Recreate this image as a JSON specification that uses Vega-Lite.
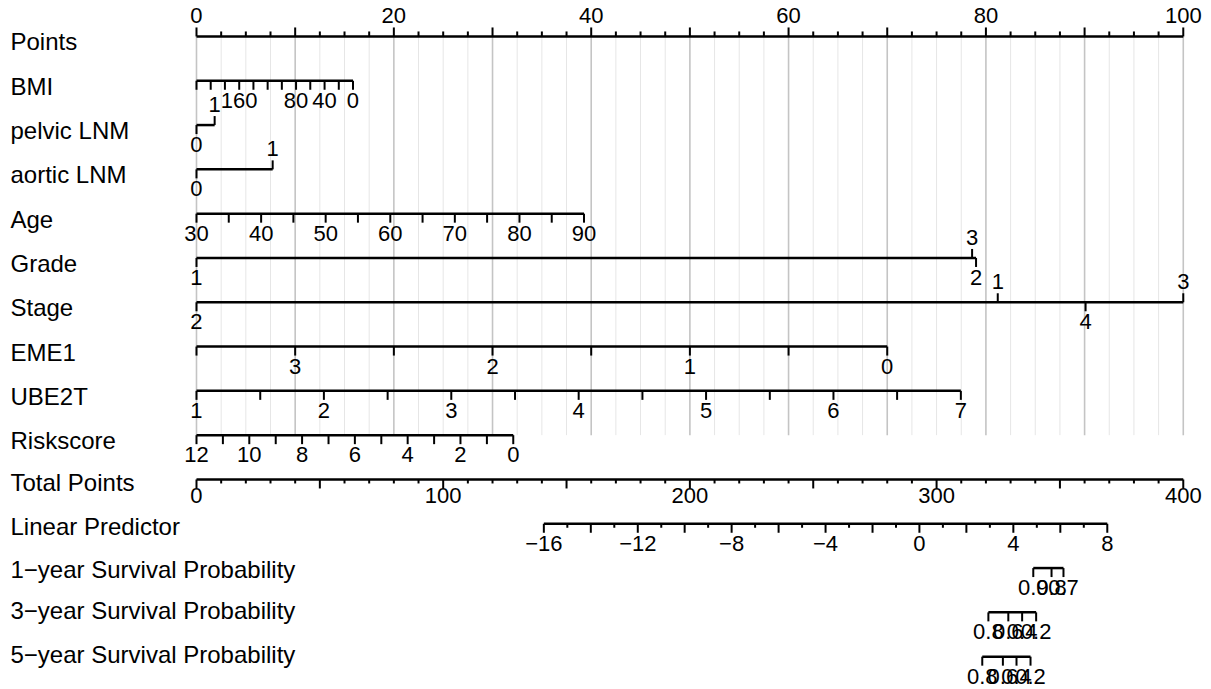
{
"$schema": "https://vega.github.io/schema/vega-lite/v6.json",
"width": 1211, "height": 689,
"autosize": {"type": "fit", "contains": "padding"},
"padding": 0,
"background": "white",
"config": {"view": {"stroke": null}, "font": "Liberation Sans"},
"datasets": {
"lines": [
{"var":"Points","lo":0,"hi":100},
{"var":"BMI","lo":0,"hi":15.86},
{"var":"pelvic LNM","lo":0,"hi":1.84},
{"var":"aortic LNM","lo":0,"hi":7.72},
{"var":"Age","lo":0,"hi":39.27},
{"var":"Grade","lo":0,"hi":79.0},
{"var":"Stage","lo":0,"hi":100},
{"var":"EME1","lo":0,"hi":70},
{"var":"UBE2T","lo":0,"hi":77.46},
{"var":"Riskscore","lo":0,"hi":32.1},
{"var":"Total Points","lo":0,"hi":100},
{"var":"Linear Predictor","lo":35.2,"hi":92.3},
{"var":"1−year Survival Probability","lo":84.8,"hi":87.86},
{"var":"3−year Survival Probability","lo":80.25,"hi":85.09},
{"var":"5−year Survival Probability","lo":79.63,"hi":84.52}
],
"ticks": [
{"var":"Points","pts":0,"lab":"0","side":"up","major":1},
{"var":"Points","pts":2.5,"lab":"","side":"up","major":0},
{"var":"Points","pts":5,"lab":"","side":"up","major":0},
{"var":"Points","pts":7.5,"lab":"","side":"up","major":0},
{"var":"Points","pts":10,"lab":"","side":"up","major":1},
{"var":"Points","pts":12.5,"lab":"","side":"up","major":0},
{"var":"Points","pts":15,"lab":"","side":"up","major":0},
{"var":"Points","pts":17.5,"lab":"","side":"up","major":0},
{"var":"Points","pts":20,"lab":"20","side":"up","major":1},
{"var":"Points","pts":22.5,"lab":"","side":"up","major":0},
{"var":"Points","pts":25,"lab":"","side":"up","major":0},
{"var":"Points","pts":27.5,"lab":"","side":"up","major":0},
{"var":"Points","pts":30,"lab":"","side":"up","major":1},
{"var":"Points","pts":32.5,"lab":"","side":"up","major":0},
{"var":"Points","pts":35,"lab":"","side":"up","major":0},
{"var":"Points","pts":37.5,"lab":"","side":"up","major":0},
{"var":"Points","pts":40,"lab":"40","side":"up","major":1},
{"var":"Points","pts":42.5,"lab":"","side":"up","major":0},
{"var":"Points","pts":45,"lab":"","side":"up","major":0},
{"var":"Points","pts":47.5,"lab":"","side":"up","major":0},
{"var":"Points","pts":50,"lab":"","side":"up","major":1},
{"var":"Points","pts":52.5,"lab":"","side":"up","major":0},
{"var":"Points","pts":55,"lab":"","side":"up","major":0},
{"var":"Points","pts":57.5,"lab":"","side":"up","major":0},
{"var":"Points","pts":60,"lab":"60","side":"up","major":1},
{"var":"Points","pts":62.5,"lab":"","side":"up","major":0},
{"var":"Points","pts":65,"lab":"","side":"up","major":0},
{"var":"Points","pts":67.5,"lab":"","side":"up","major":0},
{"var":"Points","pts":70,"lab":"","side":"up","major":1},
{"var":"Points","pts":72.5,"lab":"","side":"up","major":0},
{"var":"Points","pts":75,"lab":"","side":"up","major":0},
{"var":"Points","pts":77.5,"lab":"","side":"up","major":0},
{"var":"Points","pts":80,"lab":"80","side":"up","major":1},
{"var":"Points","pts":82.5,"lab":"","side":"up","major":0},
{"var":"Points","pts":85,"lab":"","side":"up","major":0},
{"var":"Points","pts":87.5,"lab":"","side":"up","major":0},
{"var":"Points","pts":90,"lab":"","side":"up","major":1},
{"var":"Points","pts":92.5,"lab":"","side":"up","major":0},
{"var":"Points","pts":95,"lab":"","side":"up","major":0},
{"var":"Points","pts":97.5,"lab":"","side":"up","major":0},
{"var":"Points","pts":100,"lab":"100","side":"up","major":1},

{"var":"BMI","pts":15.86,"lab":"0","side":"dn","major":1},
{"var":"BMI","pts":14.42,"lab":"","side":"dn","major":1},
{"var":"BMI","pts":12.98,"lab":"40","side":"dn","major":1},
{"var":"BMI","pts":11.53,"lab":"","side":"dn","major":1},
{"var":"BMI","pts":10.09,"lab":"80","side":"dn","major":1},
{"var":"BMI","pts":8.65,"lab":"","side":"dn","major":1},
{"var":"BMI","pts":7.21,"lab":"","side":"dn","major":1},
{"var":"BMI","pts":5.77,"lab":"","side":"dn","major":1},
{"var":"BMI","pts":4.33,"lab":"160","side":"dn","major":1},
{"var":"BMI","pts":2.88,"lab":"","side":"dn","major":1},
{"var":"BMI","pts":1.44,"lab":"","side":"dn","major":1},
{"var":"BMI","pts":0,"lab":"","side":"dn","major":1},

{"var":"pelvic LNM","pts":0,"lab":"0","side":"dn","major":1},
{"var":"pelvic LNM","pts":1.84,"lab":"1","side":"up","major":1},
{"var":"aortic LNM","pts":0,"lab":"0","side":"dn","major":1},
{"var":"aortic LNM","pts":7.72,"lab":"1","side":"up","major":1},

{"var":"Age","pts":0,"lab":"30","side":"dn","major":1},
{"var":"Age","pts":3.27,"lab":"","side":"dn","major":1},
{"var":"Age","pts":6.55,"lab":"40","side":"dn","major":1},
{"var":"Age","pts":9.82,"lab":"","side":"dn","major":1},
{"var":"Age","pts":13.09,"lab":"50","side":"dn","major":1},
{"var":"Age","pts":16.36,"lab":"","side":"dn","major":1},
{"var":"Age","pts":19.64,"lab":"60","side":"dn","major":1},
{"var":"Age","pts":22.91,"lab":"","side":"dn","major":1},
{"var":"Age","pts":26.18,"lab":"70","side":"dn","major":1},
{"var":"Age","pts":29.45,"lab":"","side":"dn","major":1},
{"var":"Age","pts":32.73,"lab":"80","side":"dn","major":1},
{"var":"Age","pts":36.0,"lab":"","side":"dn","major":1},
{"var":"Age","pts":39.27,"lab":"90","side":"dn","major":1},

{"var":"Grade","pts":0,"lab":"1","side":"dn","major":1},
{"var":"Grade","pts":79.0,"lab":"2","side":"dn","major":1},
{"var":"Grade","pts":78.6,"lab":"3","side":"up","major":1},

{"var":"Stage","pts":0,"lab":"2","side":"dn","major":1},
{"var":"Stage","pts":81.2,"lab":"1","side":"up","major":1},
{"var":"Stage","pts":90.1,"lab":"4","side":"dn","major":1},
{"var":"Stage","pts":100,"lab":"3","side":"up","major":1},

{"var":"EME1","pts":0,"lab":"","side":"dn","major":1},
{"var":"EME1","pts":10,"lab":"3","side":"dn","major":1},
{"var":"EME1","pts":20,"lab":"","side":"dn","major":1},
{"var":"EME1","pts":30,"lab":"2","side":"dn","major":1},
{"var":"EME1","pts":40,"lab":"","side":"dn","major":1},
{"var":"EME1","pts":50,"lab":"1","side":"dn","major":1},
{"var":"EME1","pts":60,"lab":"","side":"dn","major":1},
{"var":"EME1","pts":70,"lab":"0","side":"dn","major":1},

{"var":"UBE2T","pts":0,"lab":"1","side":"dn","major":1},
{"var":"UBE2T","pts":6.46,"lab":"","side":"dn","major":1},
{"var":"UBE2T","pts":12.91,"lab":"2","side":"dn","major":1},
{"var":"UBE2T","pts":19.37,"lab":"","side":"dn","major":1},
{"var":"UBE2T","pts":25.82,"lab":"3","side":"dn","major":1},
{"var":"UBE2T","pts":32.28,"lab":"","side":"dn","major":1},
{"var":"UBE2T","pts":38.73,"lab":"4","side":"dn","major":1},
{"var":"UBE2T","pts":45.19,"lab":"","side":"dn","major":1},
{"var":"UBE2T","pts":51.64,"lab":"5","side":"dn","major":1},
{"var":"UBE2T","pts":58.1,"lab":"","side":"dn","major":1},
{"var":"UBE2T","pts":64.55,"lab":"6","side":"dn","major":1},
{"var":"UBE2T","pts":71.0,"lab":"","side":"dn","major":1},
{"var":"UBE2T","pts":77.46,"lab":"7","side":"dn","major":1},

{"var":"Riskscore","pts":0,"lab":"12","side":"dn","major":1},
{"var":"Riskscore","pts":2.675,"lab":"","side":"dn","major":1},
{"var":"Riskscore","pts":5.35,"lab":"10","side":"dn","major":1},
{"var":"Riskscore","pts":8.03,"lab":"","side":"dn","major":1},
{"var":"Riskscore","pts":10.7,"lab":"8","side":"dn","major":1},
{"var":"Riskscore","pts":13.38,"lab":"","side":"dn","major":1},
{"var":"Riskscore","pts":16.05,"lab":"6","side":"dn","major":1},
{"var":"Riskscore","pts":18.73,"lab":"","side":"dn","major":1},
{"var":"Riskscore","pts":21.4,"lab":"4","side":"dn","major":1},
{"var":"Riskscore","pts":24.08,"lab":"","side":"dn","major":1},
{"var":"Riskscore","pts":26.75,"lab":"2","side":"dn","major":1},
{"var":"Riskscore","pts":29.43,"lab":"","side":"dn","major":1},
{"var":"Riskscore","pts":32.1,"lab":"0","side":"dn","major":1},

{"var":"Total Points","pts":0,"lab":"0","side":"dn","major":1},
{"var":"Total Points","pts":2.5,"lab":"","side":"dn","major":0},
{"var":"Total Points","pts":5,"lab":"","side":"dn","major":0},
{"var":"Total Points","pts":7.5,"lab":"","side":"dn","major":0},
{"var":"Total Points","pts":10,"lab":"","side":"dn","major":0},
{"var":"Total Points","pts":12.5,"lab":"","side":"dn","major":1},
{"var":"Total Points","pts":15,"lab":"","side":"dn","major":0},
{"var":"Total Points","pts":17.5,"lab":"","side":"dn","major":0},
{"var":"Total Points","pts":20,"lab":"","side":"dn","major":0},
{"var":"Total Points","pts":22.5,"lab":"","side":"dn","major":0},
{"var":"Total Points","pts":25,"lab":"100","side":"dn","major":1},
{"var":"Total Points","pts":27.5,"lab":"","side":"dn","major":0},
{"var":"Total Points","pts":30,"lab":"","side":"dn","major":0},
{"var":"Total Points","pts":32.5,"lab":"","side":"dn","major":0},
{"var":"Total Points","pts":35,"lab":"","side":"dn","major":0},
{"var":"Total Points","pts":37.5,"lab":"","side":"dn","major":1},
{"var":"Total Points","pts":40,"lab":"","side":"dn","major":0},
{"var":"Total Points","pts":42.5,"lab":"","side":"dn","major":0},
{"var":"Total Points","pts":45,"lab":"","side":"dn","major":0},
{"var":"Total Points","pts":47.5,"lab":"","side":"dn","major":0},
{"var":"Total Points","pts":50,"lab":"200","side":"dn","major":1},
{"var":"Total Points","pts":52.5,"lab":"","side":"dn","major":0},
{"var":"Total Points","pts":55,"lab":"","side":"dn","major":0},
{"var":"Total Points","pts":57.5,"lab":"","side":"dn","major":0},
{"var":"Total Points","pts":60,"lab":"","side":"dn","major":0},
{"var":"Total Points","pts":62.5,"lab":"","side":"dn","major":1},
{"var":"Total Points","pts":65,"lab":"","side":"dn","major":0},
{"var":"Total Points","pts":67.5,"lab":"","side":"dn","major":0},
{"var":"Total Points","pts":70,"lab":"","side":"dn","major":0},
{"var":"Total Points","pts":72.5,"lab":"","side":"dn","major":0},
{"var":"Total Points","pts":75,"lab":"300","side":"dn","major":1},
{"var":"Total Points","pts":77.5,"lab":"","side":"dn","major":0},
{"var":"Total Points","pts":80,"lab":"","side":"dn","major":0},
{"var":"Total Points","pts":82.5,"lab":"","side":"dn","major":0},
{"var":"Total Points","pts":85,"lab":"","side":"dn","major":0},
{"var":"Total Points","pts":87.5,"lab":"","side":"dn","major":1},
{"var":"Total Points","pts":90,"lab":"","side":"dn","major":0},
{"var":"Total Points","pts":92.5,"lab":"","side":"dn","major":0},
{"var":"Total Points","pts":95,"lab":"","side":"dn","major":0},
{"var":"Total Points","pts":97.5,"lab":"","side":"dn","major":0},
{"var":"Total Points","pts":100,"lab":"400","side":"dn","major":1},

{"var":"Linear Predictor","pts":35.2,"lab":"−16","side":"dn","major":1},
{"var":"Linear Predictor","pts":37.58,"lab":"","side":"dn","major":0},
{"var":"Linear Predictor","pts":39.96,"lab":"","side":"dn","major":1},
{"var":"Linear Predictor","pts":42.34,"lab":"","side":"dn","major":0},
{"var":"Linear Predictor","pts":44.72,"lab":"−12","side":"dn","major":1},
{"var":"Linear Predictor","pts":47.10,"lab":"","side":"dn","major":0},
{"var":"Linear Predictor","pts":49.47,"lab":"","side":"dn","major":1},
{"var":"Linear Predictor","pts":51.85,"lab":"","side":"dn","major":0},
{"var":"Linear Predictor","pts":54.23,"lab":"−8","side":"dn","major":1},
{"var":"Linear Predictor","pts":56.61,"lab":"","side":"dn","major":0},
{"var":"Linear Predictor","pts":58.99,"lab":"","side":"dn","major":1},
{"var":"Linear Predictor","pts":61.37,"lab":"","side":"dn","major":0},
{"var":"Linear Predictor","pts":63.75,"lab":"−4","side":"dn","major":1},
{"var":"Linear Predictor","pts":66.13,"lab":"","side":"dn","major":0},
{"var":"Linear Predictor","pts":68.51,"lab":"","side":"dn","major":1},
{"var":"Linear Predictor","pts":70.89,"lab":"","side":"dn","major":0},
{"var":"Linear Predictor","pts":73.26,"lab":"0","side":"dn","major":1},
{"var":"Linear Predictor","pts":75.64,"lab":"","side":"dn","major":0},
{"var":"Linear Predictor","pts":78.02,"lab":"","side":"dn","major":1},
{"var":"Linear Predictor","pts":80.40,"lab":"","side":"dn","major":0},
{"var":"Linear Predictor","pts":82.78,"lab":"4","side":"dn","major":1},
{"var":"Linear Predictor","pts":85.16,"lab":"","side":"dn","major":0},
{"var":"Linear Predictor","pts":87.54,"lab":"","side":"dn","major":1},
{"var":"Linear Predictor","pts":89.92,"lab":"","side":"dn","major":0},
{"var":"Linear Predictor","pts":92.3,"lab":"8","side":"dn","major":1},

{"var":"1−year Survival Probability","pts":84.8,"lab":"0.9","side":"dn","major":1},
{"var":"1−year Survival Probability","pts":86.65,"lab":"0.8","side":"dn","major":1},
{"var":"1−year Survival Probability","pts":87.86,"lab":"0.7","side":"dn","major":1},
{"var":"3−year Survival Probability","pts":80.25,"lab":"0.8","side":"dn","major":1},
{"var":"3−year Survival Probability","pts":82.27,"lab":"0.6","side":"dn","major":1},
{"var":"3−year Survival Probability","pts":83.67,"lab":"0.4","side":"dn","major":1},
{"var":"3−year Survival Probability","pts":85.09,"lab":"0.2","side":"dn","major":1},
{"var":"5−year Survival Probability","pts":79.63,"lab":"0.8","side":"dn","major":1},
{"var":"5−year Survival Probability","pts":81.72,"lab":"0.6","side":"dn","major":1},
{"var":"5−year Survival Probability","pts":83.1,"lab":"0.4","side":"dn","major":1},
{"var":"5−year Survival Probability","pts":84.52,"lab":"0.2","side":"dn","major":1}
]
},
"encoding": {
"x": {"field": "pts", "type": "quantitative", "scale": {"domain": [-19.913, 102.81], "nice": false, "zero": false}, "axis": null},
"y": {"field": "var", "type": "nominal",
  "scale": {"type": "point", "domain": ["Points","BMI","pelvic LNM","aortic LNM","Age","Grade","Stage","EME1","UBE2T","Riskscore","Total Points","Linear Predictor","1−year Survival Probability","3−year Survival Probability","5−year Survival Probability"], "padding": 0.7765, "align": 0.53},
  "axis": {"title": null, "domain": false, "ticks": false, "tickSize": 0, "grid": false, "labelAlign": "left", "labelPadding": -10, "labelFontSize": 24, "labelFont": "Liberation Sans", "labelColor": "black", "labelLimit": 0,
    "labelOffset": {"condition": [
      {"test": "datum.value == '3−year Survival Probability' || datum.value == '5−year Survival Probability'", "value": -1},
      {"test": "datum.value == '1−year Survival Probability'", "value": 2},
      {"test": "datum.value == 'Linear Predictor' || datum.value == 'Total Points'", "value": 4}
    ], "value": 6.5},
    "labelBaseline": "middle", "labelOverlap": false, "labelBound": false, "minExtent": 0, "maxExtent": 0}}
},
"layer": [
{"data": {"name": "ticks"}, "transform": [{"filter": "datum.var == 'Points' && datum.major == 0"}],
 "mark": {"type": "rule", "color": "#e6e6e6", "strokeWidth": 1},
 "encoding": {"y": {"datum": "Points", "type": "nominal"}, "y2": {"datum": "Riskscore"}}},
{"data": {"name": "ticks"}, "transform": [{"filter": "datum.var == 'Points' && datum.major == 1"}],
 "mark": {"type": "rule", "color": "#c4c4c4", "strokeWidth": 1.6},
 "encoding": {"y": {"datum": "Points", "type": "nominal"}, "y2": {"datum": "Riskscore"}}},
{"data": {"name": "lines"},
 "mark": {"type": "rule", "color": "black", "strokeWidth": 2.5},
 "encoding": {"x": {"field": "lo", "type": "quantitative"}, "x2": {"field": "hi"}}},
{"data": {"name": "ticks"}, "transform": [{"filter": "datum.side == 'up' && datum.major == 1"}],
 "mark": {"type": "tick", "orient": "vertical", "color": "black", "size": 9, "thickness": 2, "yOffset": -4.5, "opacity": 1}},
{"data": {"name": "ticks"}, "transform": [{"filter": "datum.side == 'up' && datum.major == 0"}],
 "mark": {"type": "tick", "orient": "vertical", "color": "black", "size": 5, "thickness": 2, "yOffset": -2.5, "opacity": 1}},
{"data": {"name": "ticks"}, "transform": [{"filter": "datum.side == 'dn' && datum.major == 1"}],
 "mark": {"type": "tick", "orient": "vertical", "color": "black", "size": 9, "thickness": 2, "yOffset": 4.5, "opacity": 1}},
{"data": {"name": "ticks"}, "transform": [{"filter": "datum.side == 'dn' && datum.major == 0"}],
 "mark": {"type": "tick", "orient": "vertical", "color": "black", "size": 4, "thickness": 2, "yOffset": 2, "opacity": 1}},
{"data": {"name": "ticks"}, "transform": [{"filter": "datum.side == 'up' && datum.lab != ''"}],
 "mark": {"type": "text", "color": "black", "fontSize": 22, "font": "Liberation Sans", "baseline": "middle", "align": "center", "dy": -20},
 "encoding": {"text": {"field": "lab"}}},
{"data": {"name": "ticks"}, "transform": [{"filter": "datum.side == 'dn' && datum.lab != '' && datum.var != 'Total Points'"}],
 "mark": {"type": "text", "color": "black", "fontSize": 22, "font": "Liberation Sans", "baseline": "middle", "align": "center", "dy": 20},
 "encoding": {"text": {"field": "lab"}}},
{"data": {"name": "ticks"}, "transform": [{"filter": "datum.var == 'Total Points' && datum.lab != ''"}],
 "mark": {"type": "text", "color": "black", "fontSize": 22, "font": "Liberation Sans", "baseline": "middle", "align": "center", "dy": 17},
 "encoding": {"text": {"field": "lab"}}}
]
}
